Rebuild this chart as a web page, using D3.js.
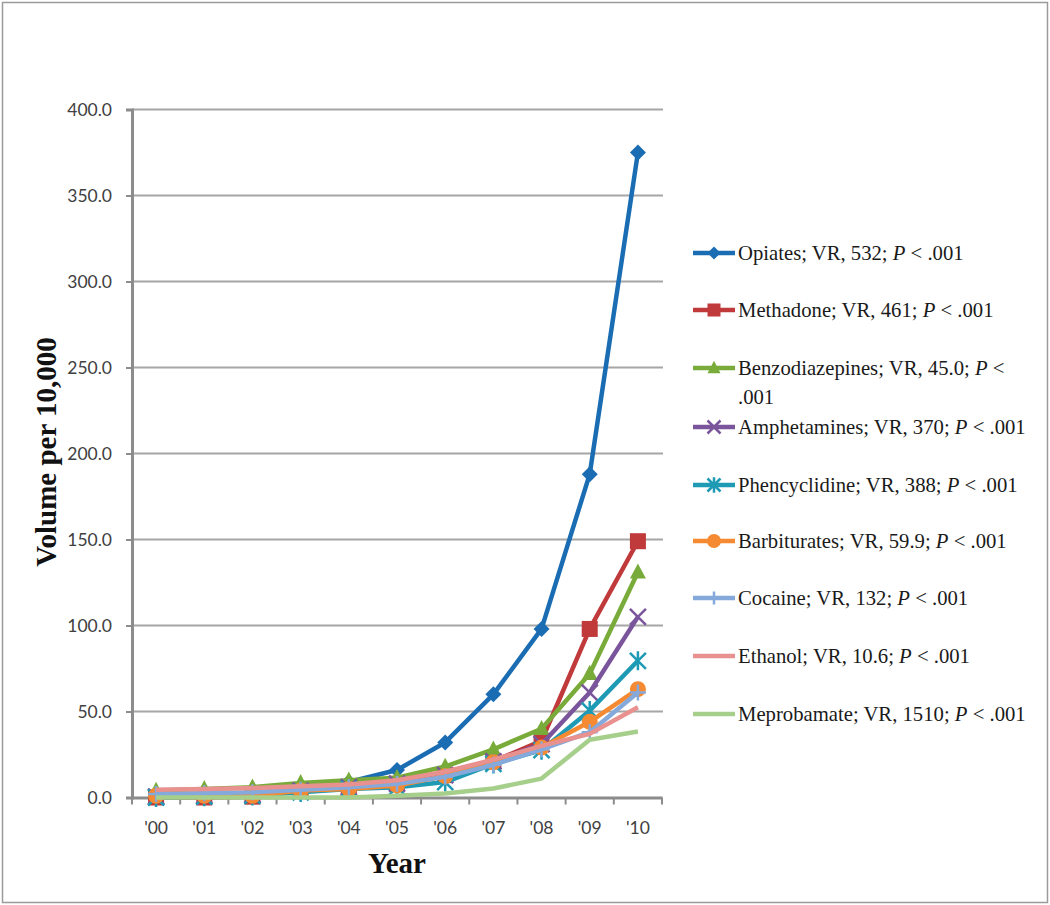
<!DOCTYPE html>
<html><head><meta charset="utf-8">
<script src="https://cdn.jsdelivr.net/npm/d3@7"></script>
<style>body{margin:0;background:#fff}svg{display:block}</style>
</head><body>
<svg id="c" width="1050" height="905"></svg>
<script>
const years = ["'00","'01","'02","'03","'04","'05","'06","'07","'08","'09","'10"];
const yTicks = [0,50,100,150,200,250,300,350,400];
const seriesNames = ["Opiates","Methadone","Benzodiazepines","Amphetamines","Phencyclidine","Barbiturates","Cocaine","Ethanol","Meprobamate"];
const legendStats = ["VR, 532;","VR, 461;","VR, 45.0;","VR, 370;","VR, 388;","VR, 59.9;","VR, 132;","VR, 10.6;","VR, 1510;"];
const opiates        = [1,1.5,2.5,5,9,16,32,60,98,188,375];
const methadone      = [0,0,0.5,4,6,8,13,21,33,98,149];
const benzodiazepines= [4,5,6,8.5,10,11.5,18,28,40,72,131];
const amphetamines   = [0.5,1,1.5,4,6,8,13,21,31,61,105];
const phencyclidine  = [0,0.5,1,3,5,6,9,19.5,27.5,50.5,79.5];
const barbiturates   = [1,1,1,4,5,7,12.5,20.5,29,44,63];
const cocaine        = [2,2.5,3,4.5,6,8,12,19,28,38,61];
const ethanol        = [4.5,5,5.5,6.5,7.5,10,15,22,30,37,52.5];
const meprobamate    = [0,0,0,0,0,1,2.3,5.2,11,33.6,38.4];
const seriesValues = [opiates,methadone,benzodiazepines,amphetamines,phencyclidine,barbiturates,cocaine,ethanol,meprobamate];
const colors = ["#1b6db3","#c0393b","#78ab3a","#7a559c","#1e9ab5","#f58a32","#85a9da","#e8918f","#a7cf8c"];
const markers = ["diamond","square","triangle","x","asterisk","circle","plus","none","none"];

const svg = d3.select("#c");
svg.append("rect").attr("x",2.5).attr("y",2.5).attr("width",1045).attr("height",900)
  .attr("fill","none").attr("stroke","#9a9a9a").attr("stroke-width",1.5);

const L=132, R=662, T=109.5, B=797.5;
const x = d3.scaleBand().domain(years).range([L,R]);
const y = d3.scaleLinear().domain([0,400]).range([B,T]);

svg.append("g").selectAll("line").data(yTicks.filter(d=>d>0)).join("line")
  .attr("x1",L).attr("x2",R+1).attr("y1",d=>y(d)).attr("y2",d=>y(d))
  .attr("stroke","#a6a6a6").attr("stroke-width",2);

const ya = svg.append("g").attr("transform",`translate(${L},0)`)
  .call(d3.axisLeft(y).tickValues(yTicks).tickFormat(d3.format(".1f")).tickSize(6).tickPadding(14));
ya.select(".domain").attr("stroke","#8c8c8c").attr("stroke-width",3);
ya.selectAll(".tick line").attr("stroke","#8c8c8c").attr("stroke-width",2);
ya.selectAll("text").attr("font-family","Lato, 'Open Sans', sans-serif").attr("font-size",17.5).attr("fill","#404040");

const xa = svg.append("g").attr("transform",`translate(0,${B})`)
  .call(d3.axisBottom(x).tickSize(0).tickPadding(24));
xa.select(".domain").attr("stroke","#8c8c8c").attr("stroke-width",3);
xa.selectAll("text").attr("font-family","Lato, 'Open Sans', sans-serif").attr("font-size",17.5).attr("fill","#404040");
const bounds = d3.range(years.length+1).map(i=>L + i*x.step());
svg.append("g").selectAll("line").data(bounds).join("line")
  .attr("x1",d=>d).attr("x2",d=>d).attr("y1",B).attr("y2",B+7)
  .attr("stroke","#8c8c8c").attr("stroke-width",2);

svg.append("text").attr("transform",`translate(56,452) rotate(-90)`).attr("text-anchor","middle")
  .attr("font-family","'Liberation Serif','Times New Roman',serif").attr("font-weight","bold")
  .attr("font-size",29).attr("fill","#111").text("Volume per 10,000");
svg.append("text").attr("x",397).attr("y",873).attr("text-anchor","middle")
  .attr("font-family","'Liberation Serif','Times New Roman',serif").attr("font-weight","bold")
  .attr("font-size",29).attr("fill","#111").text("Year");

function drawMarker(g, type, cx, cy, color, s){
  if(type==="diamond"){
    g.append("path").attr("d",`M${cx},${cy-s}L${cx+s},${cy}L${cx},${cy+s}L${cx-s},${cy}Z`).attr("fill",color);
  } else if(type==="square"){
    g.append("rect").attr("x",cx-s).attr("y",cy-s).attr("width",2*s).attr("height",2*s).attr("fill",color);
  } else if(type==="triangle"){
    g.append("path").attr("d",`M${cx},${cy-s*1.1}L${cx+s},${cy+s*0.8}L${cx-s},${cy+s*0.8}Z`).attr("fill",color);
  } else if(type==="circle"){
    g.append("circle").attr("cx",cx).attr("cy",cy).attr("r",s).attr("fill",color);
  } else if(type==="x"){
    g.append("path").attr("d",`M${cx-s},${cy-s}L${cx+s},${cy+s}M${cx-s},${cy+s}L${cx+s},${cy-s}`)
      .attr("stroke",color).attr("stroke-width",2.5).attr("fill","none");
  } else if(type==="asterisk"){
    g.append("path").attr("d",`M${cx-s},${cy-s}L${cx+s},${cy+s}M${cx-s},${cy+s}L${cx+s},${cy-s}M${cx},${cy-s*1.2}L${cx},${cy+s*1.2}`)
      .attr("stroke",color).attr("stroke-width",2.5).attr("fill","none");
  } else if(type==="plus"){
    g.append("path").attr("d",`M${cx-s},${cy}L${cx+s},${cy}M${cx},${cy-s}L${cx},${cy+s}`)
      .attr("stroke",color).attr("stroke-width",2.5).attr("fill","none");
  }
}

const line = d3.line().x((d,i)=>x(years[i])+x.bandwidth()/2).y(d=>y(d));
seriesValues.forEach((vals,k)=>{
  const g = svg.append("g");
  g.append("path").datum(vals).attr("d",line).attr("fill","none")
    .attr("stroke",colors[k]).attr("stroke-width",4.5).attr("stroke-linejoin","round");
  vals.forEach((v,i)=>{
    drawMarker(g, markers[k], x(years[i])+x.bandwidth()/2, y(v), colors[k], markers[k]==="circle"?8:8);
  });
});

const legY = [253,310,368,427,485,541,598,656,714];
const lg = svg.append("g").attr("font-family","'Liberation Serif','Times New Roman',serif").attr("font-size",20.7).attr("fill","#1a1a1a");
seriesNames.forEach((n,k)=>{
  const cy = legY[k];
  lg.append("line").attr("x1",693).attr("x2",735).attr("y1",cy).attr("y2",cy)
    .attr("stroke",colors[k]).attr("stroke-width",4.5);
  drawMarker(lg, markers[k], 714, cy, colors[k], markers[k]==="circle"?7:6.5);
  const t = lg.append("text").attr("x",738).attr("y",cy+7);
  t.append("tspan").text(n+"; "+legendStats[k]+" ");
  t.append("tspan").attr("font-style","italic").text("P");
  if(k===2){
    t.append("tspan").text(" <");
    lg.append("text").attr("x",738).attr("y",cy+36).text(".001");
  } else {
    t.append("tspan").text(" < .001");
  }
});
</script>
</body></html>
